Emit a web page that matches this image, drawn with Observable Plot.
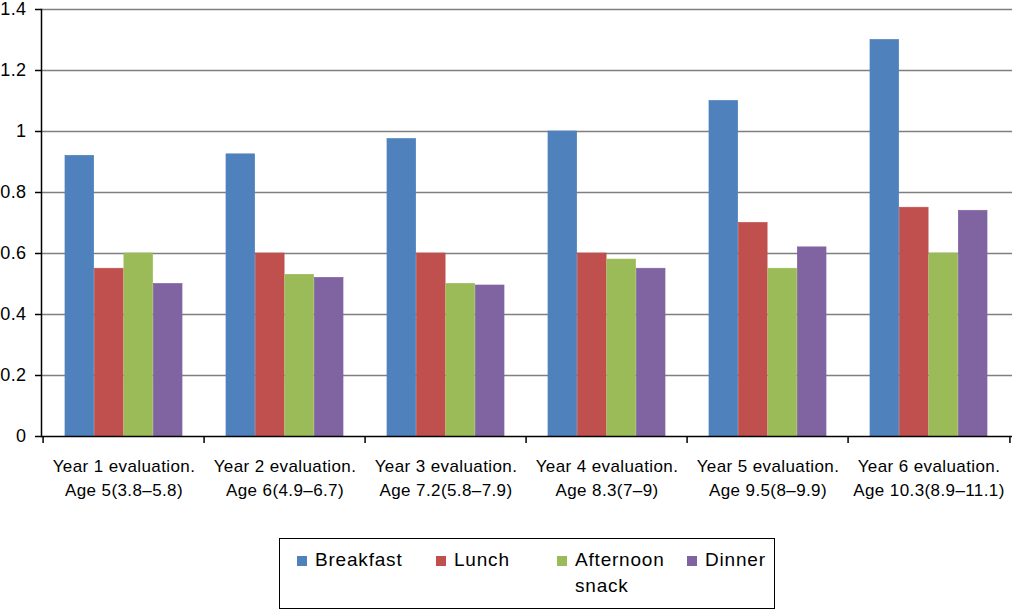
<!DOCTYPE html>
<html>
<head>
<meta charset="utf-8">
<script src="https://cdn.jsdelivr.net/npm/d3@7"></script>
<script src="https://cdn.jsdelivr.net/npm/@observablehq/plot@0.6"></script>
<style>
  html, body { margin: 0; padding: 0; background: #fff; }
  body { width: 1024px; height: 611px; overflow: hidden; font-family: "Liberation Sans", Arial, sans-serif; }
  #chart svg { display: block; }
  #legend { position: relative; margin-left: 279px; margin-top: 13px; width: 494px; height: 69px; border: 1.5px solid #000; box-sizing: content-box; }
  .item { position: absolute; top: 8px; display: flex; align-items: flex-start; font-size: 19px; letter-spacing: 0.8px; line-height: 26px; color: #000; }
  .sw { width: 10px; height: 10px; margin-top: 9px; margin-right: 8px; flex: none; }
</style>
</head>
<body>
<div id="chart"></div>
<div id="legend"></div>
<script>
const groups = ["Year 1", "Year 2", "Year 3", "Year 4", "Year 5", "Year 6"];
const tickLabels = [
  "Year 1 evaluation.\nAge 5(3.8–5.8)",
  "Year 2 evaluation.\nAge 6(4.9–6.7)",
  "Year 3 evaluation.\nAge 7.2(5.8–7.9)",
  "Year 4 evaluation.\nAge 8.3(7–9)",
  "Year 5 evaluation.\nAge 9.5(8–9.9)",
  "Year 6 evaluation.\nAge 10.3(8.9–11.1)"
];
const meals = ["Breakfast", "Lunch", "Afternoon snack", "Dinner"];
const breakfast = [0.92, 0.925, 0.975, 1.0, 1.1, 1.3];
const lunch     = [0.55, 0.6, 0.6, 0.6, 0.7, 0.75];
const snack     = [0.6, 0.53, 0.5, 0.58, 0.55, 0.6];
const dinner    = [0.5, 0.52, 0.495, 0.55, 0.62, 0.74];
const yTicks = [0, 0.2, 0.4, 0.6, 0.8, 1.0, 1.2, 1.4];
const colors = ["#4F81BD", "#C0504D", "#9BBB59", "#8064A2"];

const series = [breakfast, lunch, snack, dinner];

const W = 1024, H = 525, mL = 41, mR = 12, mT = 9, mB = 89;
const pInner = 0.272, pOuter = 0.136;
const step = (W - mL - mR) / (groups.length - pInner + 2 * pOuter);
const bw = step * (1 - pInner);
const barW = bw / meals.length;

const barMarks = series.map((vals, i) =>
  Plot.barY(groups.map((g, j) => ({group: g, meal: meals[i], value: vals[j]})), {
    x: "group", y: "value", fill: colors[i], stroke: colors[i], strokeWidth: 0.7,
    insetLeft: i * barW, insetRight: (meals.length - 1 - i) * barW
  })
);

const plot = Plot.plot({
  width: W, height: H,
  marginLeft: mL, marginRight: mR, marginTop: mT, marginBottom: mB,
  style: {fontFamily: "'Liberation Sans', Arial, sans-serif", color: "#000", background: "#fff"},
  x: {type: "band", domain: groups, paddingInner: pInner, paddingOuter: pOuter, label: null},
  y: {domain: [0, 1.4], label: null},
  marks: [
    Plot.gridY({ticks: yTicks.filter(d => d > 0), stroke: "#7f7f7f", strokeOpacity: 1, strokeWidth: 1.6}),
    ...barMarks,
    Plot.ruleY([0], {stroke: "#000", strokeWidth: 1.5}),
    Plot.frame({anchor: "left", stroke: "#000", strokeWidth: 1.5}),
    Plot.axisY({ticks: yTicks, tickSize: 6, tickPadding: 9, fontSize: 18, label: null,
      tickFormat: d => String(+d.toFixed(1)), stroke: "#000", strokeWidth: 1.5}),
    Plot.axisX({ticks: groups, tickSize: 7, tickFormat: () => "", label: null, dx: -step / 2, stroke: "#000", strokeWidth: 1.5}),
    Plot.axisX({ticks: [groups[groups.length - 1]], tickSize: 7, tickFormat: () => "", label: null, dx: step / 2, stroke: "#000", strokeWidth: 1.5}),
    Plot.axisX({ticks: groups, tickSize: 0, tickPadding: 19, fontSize: 17, lineHeight: 1.39, label: null,
      tickFormat: g => tickLabels[groups.indexOf(g)]})
  ]
});
plot.querySelectorAll("text").forEach(t => t.style.letterSpacing = "0.4px");
document.getElementById("chart").appendChild(plot);

// legend
const legend = document.getElementById("legend");
const itemLeft = [17, 156, 277, 407];
const itemWidth = [135, 115, 125, 90];
meals.forEach((m, i) => {
  const it = document.createElement("div");
  it.className = "item";
  it.style.left = itemLeft[i] + "px";
  it.style.width = itemWidth[i] + "px";
  const sw = document.createElement("span");
  sw.className = "sw";
  sw.style.background = colors[i];
  const tx = document.createElement("span");
  tx.textContent = m;
  it.appendChild(sw);
  it.appendChild(tx);
  legend.appendChild(it);
});
</script>
</body>
</html>
